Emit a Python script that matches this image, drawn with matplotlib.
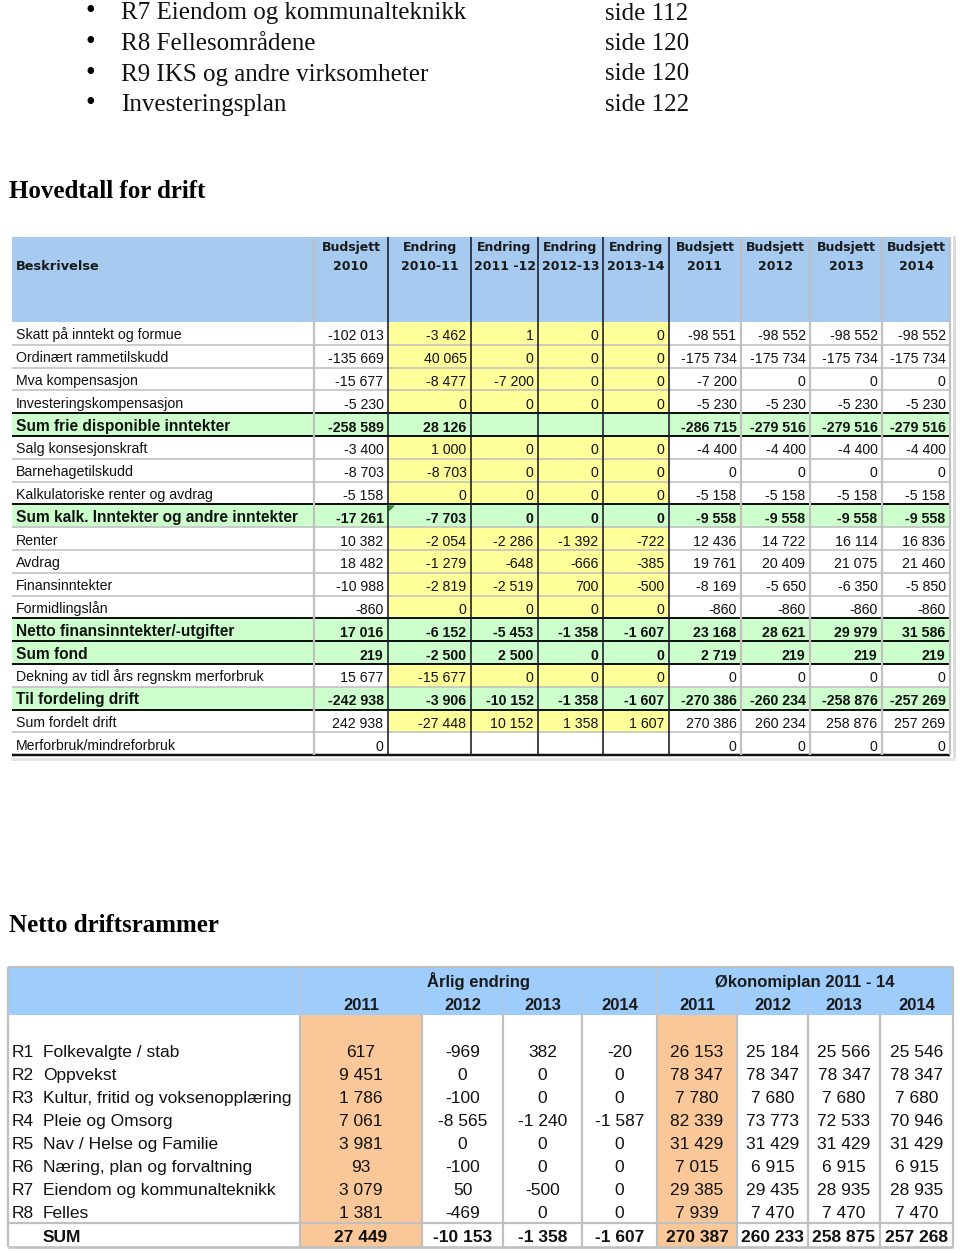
import matplotlib
matplotlib.use("Agg")
import matplotlib.pyplot as plt
from matplotlib.patches import Rectangle, Polygon

# ---------------- data ----------------
bullet_items = ["R7 Eiendom og kommunalteknikk", "R8 Fellesområdene",
                "R9 IKS og andre virksomheter", "Investeringsplan"]
bullet_pages = ["side 112", "side 120", "side 120", "side 122"]

heading1 = "Hovedtall for drift"
heading2 = "Netto driftsrammer"

t1_head_line1 = ["Budsjett", "Endring", "Endring", "Endring", "Endring",
                 "Budsjett", "Budsjett", "Budsjett", "Budsjett"]
t1_head_line2 = ["2010", "2010-11", "2011 -12", "2012-13", "2013-14",
                 "2011", "2012", "2013", "2014"]
t1_rows = ["Skatt på inntekt og formue", "Ordinært rammetilskudd", "Mva kompensasjon",
           "Investeringskompensasjon", "Sum frie disponible inntekter",
           "Salg konsesjonskraft", "Barnehagetilskudd", "Kalkulatoriske renter og avdrag",
           "Sum kalk. Inntekter og andre inntekter", "Renter", "Avdrag", "Finansinntekter",
           "Formidlingslån", "Netto finansinntekter/-utgifter", "Sum fond",
           "Dekning av tidl års regnskm merforbruk", "Til fordeling drift",
           "Sum fordelt drift", "Merforbruk/mindreforbruk"]
t1_sum_rows = [4, 8, 13, 14, 16]

budsjett_2010 = [-102013, -135669, -15677, -5230, -258589, -3400, -8703, -5158, -17261,
                 10382, 18482, -10988, -860, 17016, 219, 15677, -242938, 242938, 0]
endring_2010_11 = [-3462, 40065, -8477, 0, 28126, 1000, -8703, 0, -7703,
                   -2054, -1279, -2819, 0, -6152, -2500, -15677, -3906, -27448, None]
endring_2011_12 = [1, 0, -7200, 0, None, 0, 0, 0, 0,
                   -2286, -648, -2519, 0, -5453, 2500, 0, -10152, 10152, None]
endring_2012_13 = [0, 0, 0, 0, None, 0, 0, 0, 0,
                   -1392, -666, 700, 0, -1358, 0, 0, -1358, 1358, None]
endring_2013_14 = [0, 0, 0, 0, None, 0, 0, 0, 0,
                   -722, -385, -500, 0, -1607, 0, 0, -1607, 1607, None]
budsjett_2011 = [-98551, -175734, -7200, -5230, -286715, -4400, 0, -5158, -9558,
                 12436, 19761, -8169, -860, 23168, 2719, 0, -270386, 270386, 0]
budsjett_2012 = [-98552, -175734, 0, -5230, -279516, -4400, 0, -5158, -9558,
                 14722, 20409, -5650, -860, 28621, 219, 0, -260234, 260234, 0]
budsjett_2013 = [-98552, -175734, 0, -5230, -279516, -4400, 0, -5158, -9558,
                 16114, 21075, -6350, -860, 29979, 219, 0, -258876, 258876, 0]
budsjett_2014 = [-98552, -175734, 0, -5230, -279516, -4400, 0, -5158, -9558,
                 16836, 21460, -5850, -860, 31586, 219, 0, -257269, 257269, 0]
t1_columns = [budsjett_2010, endring_2010_11, endring_2011_12, endring_2012_13,
              endring_2013_14, budsjett_2011, budsjett_2012, budsjett_2013, budsjett_2014]

t2_group1 = "Årlig endring"
t2_group2 = "Økonomiplan 2011 - 14"
t2_years = ["2011", "2012", "2013", "2014", "2011", "2012", "2013", "2014"]
t2_codes = ["R1", "R2", "R3", "R4", "R5", "R6", "R7", "R8"]
t2_names = ["Folkevalgte / stab", "Oppvekst", "Kultur, fritid og voksenopplæring",
            "Pleie og Omsorg", "Nav / Helse og Familie", "Næring, plan og forvaltning",
            "Eiendom og kommunalteknikk", "Felles"]
endr_2011 = [617, 9451, 1786, 7061, 3981, 93, 3079, 1381]
endr_2012 = [-969, 0, -100, -8565, 0, -100, 50, -469]
endr_2013 = [382, 0, 0, -1240, 0, 0, -500, 0]
endr_2014 = [-20, 0, 0, -1587, 0, 0, 0, 0]
plan_2011 = [26153, 78347, 7780, 82339, 31429, 7015, 29385, 7939]
plan_2012 = [25184, 78347, 7680, 73773, 31429, 6915, 29435, 7470]
plan_2013 = [25566, 78347, 7680, 72533, 31429, 6915, 28935, 7470]
plan_2014 = [25546, 78347, 7680, 70946, 31429, 6915, 28935, 7470]
t2_sum_label = "SUM"
t2_sums = [27449, -10153, -1358, -1607, 270387, 260233, 258875, 257268]
t2_columns = [endr_2011, endr_2012, endr_2013, endr_2014,
              plan_2011, plan_2012, plan_2013, plan_2014]


def fmt(v):
    if v is None:
        return ""
    return f"{v:,}".replace(",", " ")


# ---------------- figure ----------------
W, H = 960, 1253
fig = plt.figure(figsize=(W / 100, H / 100), dpi=100)
ax = fig.add_axes([0, 0, 1, 1])
ax.set_xlim(0, W)
ax.set_ylim(H, 0)
ax.axis("off")

SERIF = ["Liberation Serif", "DejaVu Serif"]
SANS = ["Liberation Sans", "DejaVu Sans"]
HEAD = ["DejaVu Sans"]
PX = 0.72  # points per pixel

# ---- top bullet list ----
for i, (item, page) in enumerate(zip(bullet_items, bullet_pages)):
    yb = 19.5 + i * 30.5
    ax.text(90, yb - 1, "•", family=SERIF, fontsize=20, va="baseline", ha="center", color="black")
    ax.text(121, yb, item, family=SERIF, fontsize=18, va="baseline", ha="left", color="#111111")
    ax.text(605, yb, page, family=SERIF, fontsize=18, va="baseline", ha="left", color="#111111")

ax.text(9, 198, heading1, family=SERIF, fontsize=18, fontweight="bold", va="baseline", color="black")
ax.text(9, 932, heading2, family=SERIF, fontsize=18, fontweight="bold", va="baseline", color="black")

# ---------------- table 1 ----------------
T1X = [12, 314, 388, 471, 538, 603, 669, 741, 810, 882, 950]
T1_TOP, T1_BODY = 237, 322
RH = 22.8
nrows = len(t1_rows)
T1_BOT = T1_BODY + nrows * RH
BLUE1 = "#a6caf0"
YELLOW = "#ffff99"
GREEN = "#ccffcc"
GRID = "#c0c0c0"

ax.add_patch(Rectangle((T1X[0], T1_TOP), T1X[-1] - T1X[0], T1_BODY - T1_TOP,
                       facecolor=BLUE1, edgecolor="none"))
for r in range(nrows):
    top = T1_BODY + r * RH
    for c in range(len(T1X) - 1):
        if r in t1_sum_rows:
            col = GREEN
        elif 2 <= c <= 5 and r < nrows - 1:
            col = YELLOW
        else:
            col = "white"
        ax.add_patch(Rectangle((T1X[c], top), T1X[c + 1] - T1X[c], RH,
                               facecolor=col, edgecolor="none"))

# horizontal grid
for r in range(1, nrows):
    y = T1_BODY + r * RH
    ax.plot([T1X[0], T1X[-1]], [y, y], color=GRID, lw=1.6 * PX, solid_capstyle="butt")
for r in [4, 5, 8, 13, 14, 15, 17]:
    y = T1_BODY + r * RH
    ax.plot([T1X[0], T1X[-1]], [y, y], color="#111111", lw=2.0 * PX, solid_capstyle="butt")
ax.plot([T1X[0], T1X[-1]], [T1_BOT, T1_BOT], color="#111111", lw=2.5 * PX, solid_capstyle="butt")

# vertical grid
for i, x in enumerate(T1X[1:], start=1):
    if 2 <= i <= 6:
        ax.plot([x, x], [T1_TOP, T1_BOT], color="#1a1a2a", lw=1.6 * PX, solid_capstyle="butt")
    else:
        ax.plot([x, x], [T1_TOP, T1_BOT], color=GRID, lw=2.2 * PX, solid_capstyle="butt")
# shadow
ax.plot([954, 954], [T1_TOP, T1_BOT + 4], color="#dcdcdc", lw=3 * PX)
ax.plot([T1X[0], 954], [T1_BOT + 4, T1_BOT + 4], color="#e6e6e6", lw=3 * PX)

# comment marker
ax.add_patch(Polygon([[T1X[2] + 1, T1_BODY + 8 * RH + 1], [T1X[2] + 7, T1_BODY + 8 * RH + 1],
                      [T1X[2] + 1, T1_BODY + 8 * RH + 7]], closed=True,
                     facecolor="#2e8b2e", edgecolor="none"))

# header text
ax.text(16, 270.5, "Beskrivelse", family=HEAD, fontsize=9.3, fontweight="bold",
        va="baseline", ha="left", color="#1a1a1a")
for c in range(9):
    cx = (T1X[c + 1] + T1X[c + 2]) / 2
    ax.text(cx, 251.5, t1_head_line1[c], family=HEAD, fontsize=9, fontweight="bold",
            va="baseline", ha="center", color="#1a1a1a")
    ax.text(cx, 270.5, t1_head_line2[c], family=HEAD, fontsize=9, fontweight="bold",
            va="baseline", ha="center", color="#1a1a1a")

# body text
for r in range(nrows):
    yb = T1_BODY + r * RH + 17.5
    bold = r in t1_sum_rows
    ax.text(16, yb, t1_rows[r], family=SANS, fontsize=11.2 if bold else 10.2,
            fontweight="bold" if bold else "normal", va="baseline", ha="left", color="#111111")
    for c in range(9):
        s = fmt(t1_columns[c][r])
        if s:
            ax.text(T1X[c + 2] - 4.5, yb + 1, s, family=SANS, fontsize=10.2,
                    fontweight="bold" if bold else "normal",
                    va="baseline", ha="right", color="#111111")

# ---------------- table 2 ----------------
T2X = [8, 300, 422, 503, 582, 657, 737, 808, 880, 953]
T2_TOP, T2_BODY, T2_SUMTOP, T2_BOT = 967, 1015, 1223, 1247
BLUE2 = "#9fcdfb"
ORANGE = "#fac898"

ax.add_patch(Rectangle((T2X[0], T2_TOP), T2X[-1] - T2X[0], T2_BODY - T2_TOP,
                       facecolor=BLUE2, edgecolor="none"))
for c in (1, 5):
    ax.add_patch(Rectangle((T2X[c], T2_BODY), T2X[c + 1] - T2X[c], T2_BOT - T2_BODY,
                           facecolor=ORANGE, edgecolor="none"))

# vertical lines
for i, x in enumerate(T2X):
    ax.plot([x, x], [T2_BODY, T2_BOT], color=GRID, lw=2.2 * PX, solid_capstyle="butt")
    if i in (0, 1, 5, len(T2X) - 1):
        ax.plot([x, x], [T2_TOP, T2_BODY], color="#b8c8d8" if i in (1, 5) else GRID,
                lw=2.2 * PX, solid_capstyle="butt")
    else:
        ax.plot([x, x], [990, T2_BODY], color="#b0c8e0", lw=1.5 * PX, solid_capstyle="butt")
ax.plot([T2X[0], T2X[-1]], [T2_TOP, T2_TOP], color=GRID, lw=2.2 * PX, solid_capstyle="butt")
ax.plot([T2X[0], T2X[-1]], [T2_SUMTOP, T2_SUMTOP], color=GRID, lw=2.2 * PX, solid_capstyle="butt")
ax.plot([T2X[0], T2X[-1]], [T2_BOT, T2_BOT], color=GRID, lw=2.6 * PX, solid_capstyle="butt")

# header text
ax.text((T2X[1] + T2X[5]) / 2, 987, t2_group1, family=SANS, fontsize=12, fontweight="bold",
        va="baseline", ha="center", color="#1a1a1a")
ax.text((T2X[5] + T2X[-1]) / 2, 987, t2_group2, family=SANS, fontsize=12, fontweight="bold",
        va="baseline", ha="center", color="#1a1a1a")
for c, yr in enumerate(t2_years):
    cx = (T2X[c + 1] + T2X[c + 2]) / 2
    ax.text(cx, 1010, yr, family=SANS, fontsize=12, fontweight="bold",
            va="baseline", ha="center", color="#1a1a1a")

# body
for r in range(len(t2_codes)):
    yb = 1056.7 + r * 23.1
    ax.text(12, yb, t2_codes[r], family=SANS, fontsize=12.5, va="baseline", ha="left", color="#111111")
    ax.text(43, yb, t2_names[r], family=SANS, fontsize=12.5, va="baseline", ha="left", color="#111111")
    for c in range(8):
        cx = (T2X[c + 1] + T2X[c + 2]) / 2
        ax.text(cx, yb, fmt(t2_columns[c][r]), family=SANS, fontsize=12.5,
                va="baseline", ha="center", color="#111111")
yb = 1056.7 + len(t2_codes) * 23.1
ax.text(43, yb, t2_sum_label, family=SANS, fontsize=12.5, fontweight="bold",
        va="baseline", ha="left", color="#111111")
for c in range(8):
    cx = (T2X[c + 1] + T2X[c + 2]) / 2
    ax.text(cx, yb, fmt(t2_sums[c]), family=SANS, fontsize=12.5, fontweight="bold",
            va="baseline", ha="center", color="#111111")

fig.savefig("out.png", dpi=100)
